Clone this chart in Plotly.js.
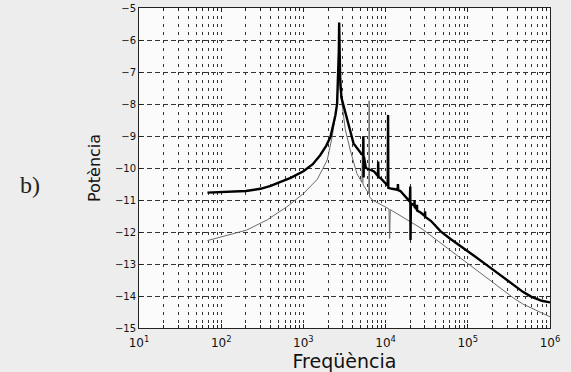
<!DOCTYPE html>
<html>
<head>
<meta charset="utf-8">
<script src="https://cdn.plot.ly/plotly-3.0.1.min.js"></script>
<style>html,body{margin:0;padding:0;background:#ededed;}#chart{width:571px;height:372px;}</style>
</head>
<body>
<div id="chart"></div>
<script>
// Thick (black) spectrum
const thickFreq = [68, 100, 150, 200, 300, 400, 500, 700, 1000, 1300, 1600, 1900, 2138, 2344, 2450, 2570, 2650, 2700, 2723, 2745, 2800, 2900, 3090, 3548, 4074, 5012, 5330, 5370, 5400, 5450, 5754, 6310, 7244, 8050, 8128, 8200, 8710, 10600, 10715, 10800, 12000, 14000, 14125, 14250, 15136, 18621, 19700, 19953, 20100, 20300, 22400, 22500, 22600, 24000, 24100, 24200, 26915, 30000, 30200, 30400, 35480, 46774, 61660, 81283, 120200, 173780, 251200, 363080, 467700, 588840, 794300, 1000000];
const thickPow  = [-10.77, -10.76, -10.75, -10.72, -10.65, -10.56, -10.46, -10.31, -10.1, -9.88, -9.6, -9.3, -9.02, -8.6, -8.35, -8.0, -7.2, -6.3, -5.45, -6.3, -7.2, -7.8, -8.08, -8.71, -9.23, -9.54, -9.6, -9.02, -10.3, -9.65, -10.0, -10.05, -10.11, -10.25, -9.8, -10.28, -10.32, -10.55, -8.34, -10.62, -10.65, -10.68, -10.5, -10.69, -10.72, -11.0, -11.05, -10.58, -12.25, -11.1, -11.18, -11.0, -11.22, -11.3, -11.15, -11.33, -11.4, -11.5, -11.35, -11.53, -11.65, -11.98, -12.22, -12.45, -12.75, -13.05, -13.36, -13.66, -13.87, -14.02, -14.15, -14.2];

// Thin (gray) spectrum
const thinFreq = [68, 107, 204, 363, 631, 1000, 1479, 1950, 2239, 2512, 2640, 2723, 2790, 3236, 3715, 4467, 5150, 5240, 5300, 5495, 6250, 6310, 6370, 6918, 10470, 11000, 11200, 11400, 26915, 46774, 81283, 120200, 173780, 251200, 363080, 467700, 588840, 794300, 1000000];
const thinPow  = [-12.27, -12.13, -11.94, -11.62, -11.21, -10.8, -10.35, -9.75, -9.02, -8.2, -7.3, -6.8, -7.5, -8.8, -9.44, -10.17, -10.45, -9.0, -10.5, -10.58, -10.8, -7.9, -10.9, -11.0, -11.26, -11.28, -12.2, -11.3, -11.88, -12.35, -12.82, -13.15, -13.45, -13.76, -14.07, -14.25, -14.38, -14.53, -14.65];

// Axis ticks
const xTickVals = [10, 100, 1000, 10000, 100000, 1000000];
const xTickText = ['10<sup>1</sup>', '10<sup>2</sup>', '10<sup>3</sup>', '10<sup>4</sup>', '10<sup>5</sup>', '10<sup>6</sup>'];
const yTickVals = [-5, -6, -7, -8, -9, -10, -11, -12, -13, -14, -15];

const traces = [
  {x: thinFreq, y: thinPow, type: 'scatter', mode: 'lines',
   line: {color: '#6a6a6a', width: 1}, hoverinfo: 'skip'},
  {x: thickFreq, y: thickPow, type: 'scatter', mode: 'lines',
   line: {color: '#000000', width: 2.4}, hoverinfo: 'skip'}
];

const layout = {
  width: 571, height: 372,
  margin: {l: 139, r: 21, t: 8, b: 44},
  paper_bgcolor: '#ededed',
  plot_bgcolor: '#fbfbfb',
  showlegend: false,
  font: {family: 'DejaVu Sans', color: '#111'},
  xaxis: {
    type: 'log', range: [1, 6],
    tickvals: xTickVals, ticktext: xTickText,
    tickfont: {size: 12, family: 'DejaVu Sans'},
    ticklabelstandoff: 4,
    ticks: 'inside', ticklen: 4, tickcolor: '#222',
    showline: true, linecolor: '#222', linewidth: 1, mirror: 'ticks',
    showgrid: true, gridcolor: '#333', gridwidth: 1, griddash: '3px,5px',
    minor: {dtick: 'D1', showgrid: true, gridcolor: '#333', gridwidth: 1, griddash: '3px,5px', ticks: 'inside', ticklen: 3, tickcolor: '#222'},
    zeroline: false,
    title: {text: 'Freqüència', font: {size: 19, family: 'DejaVu Sans', color: '#111'}, standoff: 2}
  },
  yaxis: {
    range: [-15, -5],
    tickvals: yTickVals,
    tickfont: {size: 10, family: 'DejaVu Sans'},
    ticks: 'inside', ticklen: 4, tickcolor: '#222',
    showline: true, linecolor: '#222', linewidth: 1, mirror: 'ticks',
    showgrid: true, gridcolor: '#333', gridwidth: 1, griddash: '5px,3px',
    zeroline: false,
    title: {text: 'Potència', font: {size: 16, family: 'DejaVu Sans', color: '#111'}, standoff: 10}
  },
  annotations: [
    {text: 'b)', xref: 'paper', yref: 'paper', x: -0.265, y: 0.447, xanchor: 'center', yanchor: 'middle',
     showarrow: false, font: {size: 24, family: 'Liberation Serif', color: '#222'}}
  ]
};

Plotly.newPlot('chart', traces, layout, {staticPlot: true, displayModeBar: false});
</script>
</body>
</html>
